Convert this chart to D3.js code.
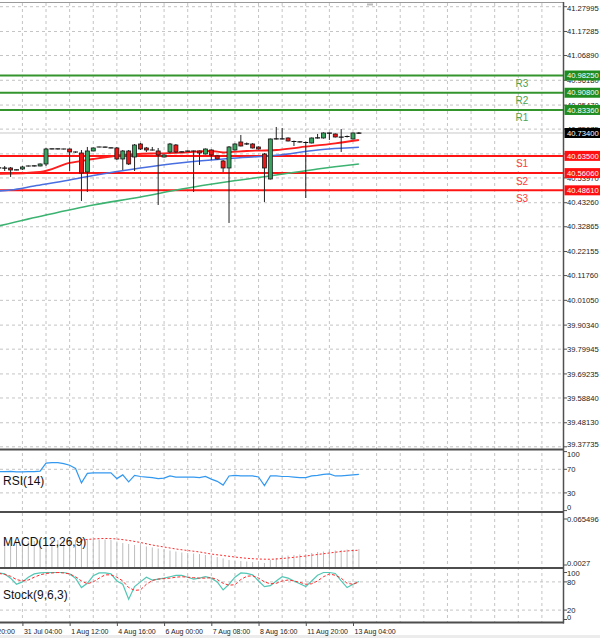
<!DOCTYPE html>
<html>
<head>
<meta charset="utf-8">
<script src="https://cdn.jsdelivr.net/npm/d3@7"></script>
<style>
  body { margin: 0; background: #fff; }
  svg { display: block; font-family: "Liberation Sans", Arial, sans-serif; }
</style>
</head>
<body>
<script>
'use strict';

// H4 bars, first entry of each per-bar array is bar -1 (cut at the left edge)
const firstBar = -1;

// [open, high, low, close]
const candles = [
  [40.5827, 40.5870, 40.5784, 40.5830],
  [40.5820, 40.5913, 40.5697, 40.5830],
  [40.5827, 40.5870, 40.5438, 40.5740],
  [40.5740, 40.5760, 40.5730, 40.5750],
  [40.5784, 40.5913, 40.5740, 40.5870],
  [40.5913, 40.5935, 40.5890, 40.5913],
  [40.5910, 40.5940, 40.5890, 40.5920],
  [40.5913, 40.6022, 40.5900, 40.6000],
  [40.6000, 40.6692, 40.5913, 40.6648],
  [40.6648, 40.6660, 40.6635, 40.6650],
  [40.6650, 40.6660, 40.6630, 40.6648],
  [40.6648, 40.6660, 40.6630, 40.6648],
  [40.6648, 40.6670, 40.5697, 40.6519],
  [40.6530, 40.6540, 40.6480, 40.6505],
  [40.6475, 40.6605, 40.4401, 40.5611],
  [40.5654, 40.6735, 40.4790, 40.6562],
  [40.6562, 40.6710, 40.6550, 40.6692],
  [40.6735, 40.6750, 40.6720, 40.6735],
  [40.6735, 40.6750, 40.6720, 40.6730],
  [40.6700, 40.6710, 40.6680, 40.6692],
  [40.6692, 40.6735, 40.6173, 40.6216],
  [40.6216, 40.6605, 40.5740, 40.6562],
  [40.6562, 40.6605, 40.5957, 40.6000],
  [40.6302, 40.6864, 40.5697, 40.6821],
  [40.6864, 40.6908, 40.6605, 40.6648],
  [40.6692, 40.6735, 40.6519, 40.6605],
  [40.6610, 40.6735, 40.6580, 40.6600],
  [40.6562, 40.6692, 40.4228, 40.6389],
  [40.6302, 40.6410, 40.6280, 40.6389],
  [40.6519, 40.6908, 40.6475, 40.6864],
  [40.6821, 40.6864, 40.6475, 40.6519],
  [40.6519, 40.6540, 40.6500, 40.6525],
  [40.6555, 40.6580, 40.6540, 40.6562],
  [40.6562, 40.6580, 40.4790, 40.6560],
  [40.6562, 40.6580, 40.5957, 40.6475],
  [40.6432, 40.6670, 40.6410, 40.6648],
  [40.6605, 40.6630, 40.6173, 40.6389],
  [40.6346, 40.6370, 40.6195, 40.6216],
  [40.6130, 40.6173, 40.5654, 40.5827],
  [40.5827, 40.6778, 40.3450, 40.6735],
  [40.6605, 40.6890, 40.6580, 40.6864],
  [40.6951, 40.7254, 40.6760, 40.6778],
  [40.6864, 40.6930, 40.6820, 40.6868],
  [40.6864, 40.6900, 40.6670, 40.6692],
  [40.6735, 40.6760, 40.6630, 40.6648],
  [40.6432, 40.6475, 40.4357, 40.5827],
  [40.5351, 40.7100, 40.5330, 40.7081],
  [40.7081, 40.7599, 40.7060, 40.7085],
  [40.7090, 40.7556, 40.7060, 40.7081],
  [40.7124, 40.7150, 40.6975, 40.6994],
  [40.6994, 40.7010, 40.6778, 40.6951],
  [40.6955, 40.6980, 40.6930, 40.6951],
  [40.6951, 40.6970, 40.4530, 40.6908],
  [40.6908, 40.7145, 40.6890, 40.7124],
  [40.7124, 40.7297, 40.7100, 40.7128],
  [40.7124, 40.7365, 40.7100, 40.7340],
  [40.7340, 40.7360, 40.7037, 40.7336],
  [40.7297, 40.7320, 40.7145, 40.7167],
  [40.7167, 40.7513, 40.6519, 40.7163],
  [40.7167, 40.7230, 40.7145, 40.7210],
  [40.7081, 40.7360, 40.7060, 40.7340],
  [40.7335, 40.7380, 40.7300, 40.7340]
];

// moving averages, [bar, price]
const maRed = [[-1, 40.5568], [6, 40.5654], [11, 40.6043], [15, 40.6216], [20, 40.6389],
  [26, 40.6462], [30, 40.6488], [35, 40.6562], [37, 40.6497], [41, 40.6562],
  [46, 40.6605], [50, 40.6722], [56, 40.6895], [60, 40.7037]];
const maBlue = [[-1, 40.4833], [1, 40.4876], [5, 40.5049], [11, 40.5308], [15, 40.5503],
  [23, 40.5827], [30, 40.6056], [38, 40.6238], [46, 40.6376], [53, 40.6605], [60, 40.6722]];
const maGreen = [[-1, 40.3320], [7, 40.3795], [15, 40.4228], [23, 40.4574], [30, 40.4919],
  [38, 40.5243], [46, 40.5524], [53, 40.5784], [60, 40.6000]];

const levelNames = ["R3", "R2", "R1", "S1", "S2", "S3"];
const levelPrices = [40.98250, 40.90800, 40.83360, 40.63500, 40.56060, 40.48610];
const lastPrice = 40.73400;

const priceTicks = [41.27995, 41.17285, 41.06890, 40.96180, 40.85470, 40.75075, 40.64365,
  40.53970, 40.43260, 40.32865, 40.22155, 40.11760, 40.01050, 39.90340, 39.79945,
  39.69235, 39.58840, 39.48130, 39.37735];

const rsiValues = [66.0, 66.0, 66.4, 65.5, 65.5, 66.0, 66.0, 66.9, 80.5, 81.4, 81.4, 79.6,
  76.8, 71.4, 46.9, 63.2, 64.1, 64.1, 64.1, 64.1, 54.2, 60.5, 48.7, 59.6, 57.8, 56.9, 56.0,
  54.2, 55.1, 58.7, 56.9, 56.9, 56.9, 56.9, 56.0, 57.8, 53.3, 49.6, 43.3, 58.7, 59.6, 58.7,
  58.7, 58.7, 56.9, 42.4, 58.7, 58.7, 57.8, 57.8, 56.9, 56.0, 56.0, 58.7, 59.6, 61.4, 62.3,
  58.7, 58.7, 59.6, 60.5, 61.4];
const rsiTicks = [100, 70, 30, 0];

const macdHist = [0.0350, 0.0352, 0.0350, 0.0348, 0.0350, 0.0352, 0.0355, 0.0355, 0.0362,
  0.0368, 0.0368, 0.0368, 0.0368, 0.0368, 0.0375, 0.0375, 0.0375, 0.0375, 0.0375, 0.0368,
  0.0348, 0.0327, 0.0314, 0.0300, 0.0293, 0.0280, 0.0266, 0.0252, 0.0239, 0.0225, 0.0211,
  0.0198, 0.0191, 0.0184, 0.0177, 0.0164, 0.0150, 0.0136, 0.0116, 0.0095, 0.0089, 0.0082,
  0.0075, 0.0068, 0.0061, 0.0055, 0.0095, 0.0123, 0.0143, 0.0157, 0.0164, 0.0171, 0.0177,
  0.0191, 0.0205, 0.0211, 0.0218, 0.0225, 0.0232, 0.0239, 0.0239, 0.0246];
const macdSignal = [[13, 0.0368], [15, 0.0382], [17, 0.0389], [19, 0.0382], [21, 0.0362],
  [23, 0.0334], [25, 0.0300], [27, 0.0273], [29, 0.0246], [31, 0.0225], [33, 0.0205],
  [35, 0.0177], [37, 0.0157], [39, 0.0136], [41, 0.0119], [43, 0.0109], [45, 0.0106],
  [47, 0.0116], [49, 0.0132], [51, 0.0150], [53, 0.0171], [55, 0.0191], [57, 0.0211],
  [59, 0.0225], [60, 0.0229]];
const macdTicks = [0.065496, 0.0027];
const macdTickLabels = ["0.065496", "0.0027"];

const stochMain = [99, 97, 88, 75, 80, 90, 97, 99, 100, 100, 100, 100, 97, 88, 68, 77, 93,
  99, 99, 97, 82, 75, 43, 70, 80, 90, 84, 86, 88, 91, 94, 94, 90, 86, 88, 91, 88, 80, 63,
  75, 90, 99, 98, 95, 82, 70, 72, 82, 91, 88, 82, 76, 70, 82, 94, 100, 100, 98, 82, 68, 75, 81];
const stochSignal = [98, 96, 92, 85, 82, 84, 90, 95, 98, 99, 100, 99, 97, 91, 82, 76, 80,
  88, 95, 95, 90, 82, 68, 62, 63, 75, 83, 86, 87, 88, 90, 91, 90, 89, 88, 88, 89, 85, 77,
  73, 74, 85, 92, 93, 88, 80, 76, 77, 82, 84, 82, 79, 75, 76, 82, 91, 97, 94, 88, 77, 75, 80];
const stochTicks = [100, 80, 20, 0];

const timeLabelBars = [-5, 3, 11, 19, 27, 35, 43, 51, 59];
const timeLabels = ["30 Jul 20:00", "31 Jul 04:00", "1 Aug 12:00", "4 Aug 16:00", "6 Aug 00:00",
  "7 Aug 08:00", "8 Aug 16:00", "11 Aug 20:00", "13 Aug 04:00"];

let width = 600;
let height = 638;
let plotRight = 563;
let svg = null;

window.onload = function() {
  svg = d3.select('body').append('svg')
    .attr('width', width)
    .attr('height', height);
  svg.append('rect').attr('width', width).attr('height', height).attr('fill', '#fff');
  drawChart();
};

function drawChart() {
  let x = d3.scaleLinear().domain([0, 60]).range([4.7, 358.9]);
  let yMain = d3.scaleLinear().domain([39.37735, 41.27995]).range([446.8, 6.7]);
  let yRsi = d3.scaleLinear().domain([0, 100]).range([510.6, 451.6]);
  let yMacd = d3.scaleLinear().domain([0, 0.065496]).range([567, 519]);
  let yStoch = d3.scaleLinear().domain([0, 100]).range([619.5, 572.5]);

  let panels = [
    { id: 'main', top: 3, bottom: 449.5 },
    { id: 'rsi', top: 449.5, bottom: 512 },
    { id: 'macd', top: 512, bottom: 568 },
    { id: 'stoch', top: 568, bottom: 622.5 }
  ];

  let defs = svg.append('defs');
  panels.forEach(p => {
    defs.append('clipPath').attr('id', 'clip-' + p.id)
      .append('rect').attr('x', 0).attr('y', p.top)
      .attr('width', plotRight).attr('height', p.bottom - p.top);
  });

  // grid
  let grid = svg.append('g').attr('stroke', '#c4c4c4').attr('stroke-dasharray', '3,3');
  d3.range(-1, 95, 4).forEach(b => {
    grid.append('line')
      .attr('x1', x(b)).attr('x2', x(b))
      .attr('y1', 3).attr('y2', 622.5);
  });
  priceTicks.forEach(t => {
    grid.append('line').attr('x1', 0).attr('x2', plotRight)
      .attr('y1', yMain(t)).attr('y2', yMain(t));
  });
  [70, 30].forEach(v => grid.append('line').attr('x1', 0).attr('x2', plotRight)
    .attr('y1', yRsi(v)).attr('y2', yRsi(v)));
  [80, 20].forEach(v => grid.append('line').attr('x1', 0).attr('x2', plotRight)
    .attr('y1', yStoch(v)).attr('y2', yStoch(v)));

  // ---------- main panel ----------
  let main = svg.append('g').attr('clip-path', 'url(#clip-main)');

  // bid line
  main.append('line').attr('x1', 0).attr('x2', plotRight)
    .attr('y1', yMain(lastPrice)).attr('y2', yMain(lastPrice))
    .attr('stroke', '#c8c8c8').attr('stroke-width', 1);

  // support / resistance lines
  levelPrices.forEach((p, i) => {
    main.append('line').attr('x1', 0).attr('x2', plotRight)
      .attr('y1', yMain(p)).attr('y2', yMain(p))
      .attr('stroke', i < 3 ? '#34952f' : '#ff1414')
      .attr('stroke-width', 2);
  });

  // moving averages
  let maLine = d3.line().x(d => x(d[0])).y(d => yMain(d[1])).curve(d3.curveMonotoneX);
  main.append('path').datum(maGreen).attr('d', maLine)
    .attr('fill', 'none').attr('stroke', '#3cb371').attr('stroke-width', 1.6);
  main.append('path').datum(maBlue).attr('d', maLine)
    .attr('fill', 'none').attr('stroke', '#4a6fe0').attr('stroke-width', 1.6);
  main.append('path').datum(maRed).attr('d', maLine)
    .attr('fill', 'none').attr('stroke', '#ff1c1c').attr('stroke-width', 1.8);

  // candles
  let bars = main.append('g');
  candles.forEach((c, k) => {
    let bx = x(firstBar + k);
    let o = c[0], h = c[1], l = c[2], cl = c[3];
    bars.append('line').attr('x1', bx).attr('x2', bx)
      .attr('y1', yMain(h)).attr('y2', yMain(l))
      .attr('stroke', '#222').attr('stroke-width', 1);
    let top = yMain(Math.max(o, cl));
    let bot = yMain(Math.min(o, cl));
    if (bot - top < 1.5) {
      bars.append('line').attr('x1', bx - 2.5).attr('x2', bx + 2.5)
        .attr('y1', (top + bot) / 2).attr('y2', (top + bot) / 2)
        .attr('stroke', '#111').attr('stroke-width', 1.2);
    } else {
      bars.append('rect')
        .attr('x', bx - 2).attr('y', top)
        .attr('width', 4).attr('height', bot - top)
        .attr('fill', cl >= o ? '#38a460' : '#f01414')
        .attr('stroke', '#1a1a1a').attr('stroke-width', 0.8);
    }
  });

  // level names
  levelPrices.forEach((p, i) => {
    svg.append('text')
      .attr('x', 522).attr('y', yMain(p) + 8).attr('dy', '0.35em')
      .attr('text-anchor', 'middle')
      .style('font-size', '10px')
      .attr('fill', i < 3 ? '#4ea24e' : '#ff3c3c')
      .text(levelNames[i]);
  });

  // ---------- RSI ----------
  let rsi = svg.append('g').attr('clip-path', 'url(#clip-rsi)');
  rsi.append('path').datum(rsiValues)
    .attr('d', d3.line().x((d, k) => x(firstBar + k)).y(d => yRsi(d)))
    .attr('fill', 'none').attr('stroke', '#3398f0').attr('stroke-width', 1.2);

  // ---------- MACD ----------
  let macd = svg.append('g').attr('clip-path', 'url(#clip-macd)');
  macdHist.forEach((v, k) => {
    macd.append('line')
      .attr('x1', x(firstBar + k)).attr('x2', x(firstBar + k))
      .attr('y1', yMacd(0)).attr('y2', yMacd(v))
      .attr('stroke', '#bdbdbd').attr('stroke-width', 1);
  });
  macd.append('path').datum(macdSignal)
    .attr('d', d3.line().x(d => x(d[0])).y(d => yMacd(d[1])).curve(d3.curveMonotoneX))
    .attr('fill', 'none').attr('stroke', '#ff2a2a').attr('stroke-width', 1)
    .attr('stroke-dasharray', '2,2');

  // ---------- Stochastic ----------
  let stoch = svg.append('g').attr('clip-path', 'url(#clip-stoch)');
  let stLine = d3.line().x((d, k) => x(firstBar + k)).y(d => yStoch(d));
  stoch.append('path').datum(stochMain).attr('d', stLine)
    .attr('fill', 'none').attr('stroke', '#52c7b5').attr('stroke-width', 1.2);
  stoch.append('path').datum(stochSignal).attr('d', stLine)
    .attr('fill', 'none').attr('stroke', '#ff2a2a').attr('stroke-width', 1)
    .attr('stroke-dasharray', '3,2');

  // indicator names
  let names = [['RSI(14)', 485], ['MACD(12,26,9)', 546], ['Stock(9,6,3)', 599]];
  names.forEach(n => {
    svg.append('text').attr('x', 3).attr('y', n[1])
      .style('font-size', '12px').attr('fill', '#111').text(n[0]);
  });

  // ---------- frame ----------
  svg.append('line').attr('x1', 0).attr('x2', plotRight).attr('y1', 2.5).attr('y2', 2.5)
    .attr('stroke', '#9a9a9a').attr('stroke-width', 1);
  [449.5, 512, 568, 622.5].forEach(yy => {
    svg.append('line').attr('x1', 0).attr('x2', plotRight + 1).attr('y1', yy).attr('y2', yy)
      .attr('stroke', '#4d4d4d').attr('stroke-width', 2.2);
  });
  svg.append('line').attr('x1', plotRight + 0.5).attr('x2', plotRight + 0.5)
    .attr('y1', 2).attr('y2', 623.5)
    .attr('stroke', '#505050').attr('stroke-width', 1.5);
  svg.append('rect').attr('x', 367).attr('y', 3.5).attr('width', 6).attr('height', 2)
    .attr('fill', '#bbb');
  svg.append('rect').attr('x', 0).attr('y', 635).attr('width', width).attr('height', 3)
    .attr('fill', '#ececec');

  // ---------- right axis ----------
  let axisFont = '7.6px';
  let axis = svg.append('g');
  let boxPrices = levelPrices.concat([lastPrice]);
  function axisLabels(ticks, labels, scale, top, bottom, hideUnderBoxes) {
    ticks.forEach((t, i) => {
      let yy = Math.max(top + 5, Math.min(bottom - 5, scale(t)));
      axis.append('line').attr('x1', plotRight).attr('x2', plotRight + 4)
        .attr('y1', scale(t)).attr('y2', scale(t))
        .attr('stroke', '#505050').attr('stroke-width', 1);
      // a label lying fully under a price box is not visible in the chart
      if (hideUnderBoxes && boxPrices.some(p => Math.abs(scale(p) - yy) < 2.5)) return;
      axis.append('text').attr('x', 567).attr('y', yy).attr('dy', '0.35em')
        .style('font-size', axisFont).attr('fill', '#222').text(labels[i]);
    });
  }
  axisLabels(priceTicks, priceTicks.map(d => d.toFixed(5)), yMain, 3, 449.5, true);
  axisLabels(rsiTicks, rsiTicks.map(String), yRsi, 449.5, 512, false);
  axisLabels(macdTicks, macdTickLabels, yMacd, 512, 568, false);
  axisLabels(stochTicks, stochTicks.map(String), yStoch, 568, 622.5, false);

  // price boxes
  let boxes = levelPrices.map((p, i) => ({ p: p, fill: i < 3 ? '#1f8c1f' : '#ff1010' }));
  boxes.push({ p: lastPrice, fill: '#000' });
  boxes.forEach(b => {
    axis.append('rect').attr('x', 564.5).attr('y', yMain(b.p) - 5)
      .attr('width', 35.5).attr('height', 10).attr('fill', b.fill);
    axis.append('text').attr('x', 567).attr('y', yMain(b.p)).attr('dy', '0.35em')
      .style('font-size', axisFont).attr('fill', '#fff').text(b.p.toFixed(5));
  });

  // ---------- time axis ----------
  let xAxis = d3.axisBottom(x)
    .tickValues(timeLabelBars)
    .tickFormat((d, i) => timeLabels[i])
    .tickSize(3)
    .tickSizeOuter(0);
  let gx = svg.append('g').attr('transform', 'translate(0,623)').call(xAxis);
  gx.select('.domain').remove();
  gx.selectAll('line').attr('stroke', '#505050');
  gx.selectAll('text')
    .attr('text-anchor', 'start')
    .attr('x', 1).attr('y', 6).attr('dy', '0.71em')
    .style('font-size', '7px')
    .style('font-family', '"Liberation Sans", Arial, sans-serif')
    .attr('fill', '#222');
}
</script>
</body>
</html>
